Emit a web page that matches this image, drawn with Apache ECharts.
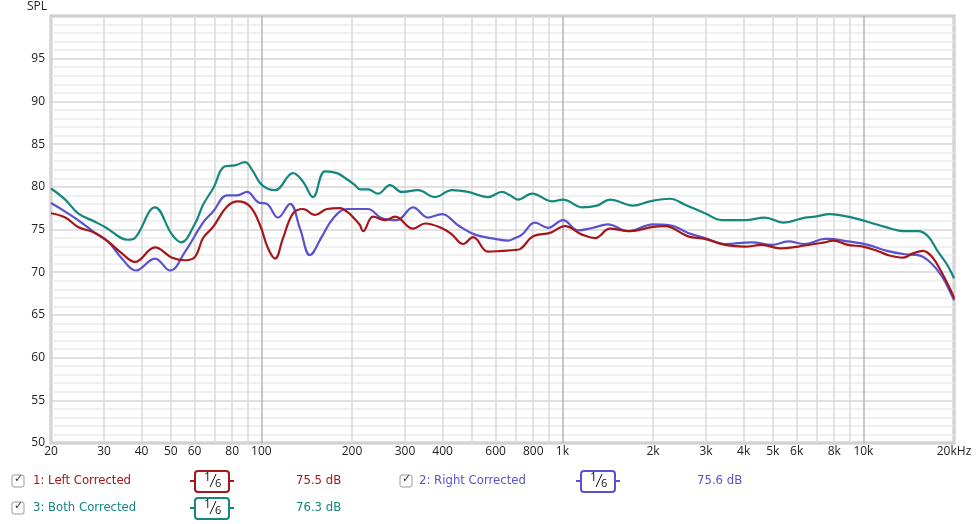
<!DOCTYPE html>
<html>
<head>
<meta charset="utf-8">
<script src="https://cdn.jsdelivr.net/npm/echarts@6/dist/echarts.min.js"></script>
<style>html,body{margin:0;padding:0;background:#fff}#c{width:980px;height:524px}</style>
</head>
<body>
<div id="c"></div>
<script>
// ---- data ----
const seriesNames = ['1: Left Corrected', '2: Right Corrected', '3: Both Corrected'];
const avgLevels = ['75.5 dB', '75.6 dB', '76.3 dB'];
const smoothing = '1/6';

const leftFreq = [20,22.3,24.6,28,30.9,34.4,38,44.3,50.5,55.8,60.2,64,69.1,76.9,83.6,91.7,99,105.2,111,118,127.4,137.5,150.7,165.2,182.5,194,204.6,212.6,217.6,234.9,257.5,278,319,350,401,430,468,505,566,630,696,723,799,910,1020,1162,1283,1439,1677,2000,2192,2615,2977,3469,4042,4604,5285,6064,7453,7925,8890,9971,10930,12072,13538,14612,15776,16902,18246,19848,20000];
const leftDb   = [76.9,76.4,75.3,74.6,73.6,72.2,71.2,72.9,71.7,71.4,71.8,74.0,75.3,77.7,78.3,77.7,75.5,72.8,71.6,74.0,76.9,77.4,76.7,77.4,77.5,77.0,76.2,75.5,74.8,76.5,76.1,76.5,75.1,75.7,75.1,74.4,73.3,74.1,72.4,72.5,72.6,72.7,74.2,74.6,75.4,74.4,74.0,75.1,74.8,75.3,75.4,74.2,73.9,73.2,73.0,73.2,72.8,73.0,73.5,73.7,73.2,73.0,72.6,72.0,71.7,72.2,72.5,71.8,69.9,67.3,66.9];

const rightFreq = [20,22.3,24.6,28,30.9,34.4,38.3,44.3,49.7,55.8,64,69.1,76.9,83,89.6,97.5,104.4,113.6,124.5,134.4,145,159,173,192.5,212.6,226,251.6,282,319,358,398,450,512,597,660,696,734,811,896,1005,1127,1264,1417,1652,2000,2278,2615,2977,3469,4265,4973,5618,6397,7453,7628,8890,10362,11980,13746,15182,16644,18246,19848,20000];
const rightDb   = [78.1,77.1,76.1,74.6,73.6,71.6,70.2,71.6,70.2,72.4,75.8,77.1,79.0,79.0,79.4,78.2,78.0,76.4,78.0,75.1,72.0,74.2,76.3,77.4,77.4,77.4,76.3,76.1,77.6,76.4,76.8,75.5,74.4,73.9,73.7,74.0,74.4,75.8,75.2,76.1,74.9,75.2,75.6,74.8,75.6,75.5,74.6,74.0,73.3,73.5,73.2,73.6,73.3,73.9,73.9,73.6,73.2,72.5,72.1,72.0,71.2,69.5,67.0,66.7];

const bothFreq = [20,22.3,24.6,28,30.2,36.1,38,44.3,50.5,54.1,60.2,64,69.1,75.7,81.7,88.2,93.8,100.5,111,127.4,137.5,148.4,162.7,178.3,194,204.6,212.6,226,244,267.5,293,331,377,430,486,566,630,670,712,793,924,1005,1162,1303,1439,1716,1955,2278,2556,2977,3390,4042,4711,5408,6397,6907,7745,8890,10126,11799,13746,15182,16390,17696,18960,20000];
const bothDb   = [79.8,78.5,76.9,75.9,75.3,73.8,74.0,77.6,74.4,73.5,75.7,77.9,79.8,82.4,82.5,82.9,81.8,80.2,79.6,81.6,80.6,78.8,81.8,81.6,80.8,80.2,79.7,79.7,79.2,80.2,79.4,79.6,78.8,79.6,79.4,78.8,79.4,79.0,78.5,79.2,78.3,78.5,77.6,77.8,78.5,77.8,78.3,78.6,77.9,76.9,76.1,76.1,76.4,75.8,76.4,76.5,76.8,76.5,76.0,75.3,74.8,74.8,74.2,72.4,70.9,69.3];

const xLabelValues = [20,30,40,50,60,80,100,200,300,400,600,800,1000,2000,3000,4000,5000,6000,8000,10000,20000];
const xMinorGrid = [20,30,40,50,60,70,80,90,200,300,400,500,600,700,800,900,2000,3000,4000,5000,6000,7000,8000,9000,20000];
const xMajorGrid = [100,1000,10000];

const colors = ['#a3161a', '#5a52cc', '#15877f'];

// ---- chart ----
const chart = echarts.init(document.getElementById('c'), null, {renderer: 'canvas'});
const zipPts = (f, d) => f.map((v, i) => [v, d[i]]);
const axisFont = 'Open Sans, DejaVu Sans, sans-serif';
const legFont = '"Liberation Sans Narrow", "DejaVu Sans Condensed", "Open Sans", sans-serif';

function fmtX(v) {
  if (v >= 20000) return '20kHz';
  if (v >= 1000) return (v / 1000) + 'k';
  return String(v);
}

const graphics = [
  {type: 'text', left: 27, top: 1, style: {text: 'SPL', font: '12px ' + axisFont, fill: '#222'}}
];
const legendLayout = [
  {cb: 12, label: 33, box: 195, value: 296, y: 481},
  {cb: 400, label: 419, box: 581, value: 697, y: 481},
  {cb: 12, label: 33, box: 195, value: 296, y: 508}
];
seriesNames.forEach((name, i) => {
  const p = legendLayout[i];
  const c = colors[i];
  graphics.push({type: 'rect', shape: {x: p.cb, y: p.y - 6, width: 12, height: 12, r: 2}, style: {fill: '#fff', stroke: '#9a9a9a', lineWidth: 1}});
  graphics.push({type: 'text', x: p.cb + 2, y: p.y - 7, style: {text: '\u2713', font: '11px DejaVu Sans', fill: '#333'}});
  graphics.push({type: 'text', x: p.label, y: p.y, style: {text: name, font: '13px ' + legFont, fill: c, verticalAlign: 'middle'}});
  const bx = p.box;
  graphics.push({type: 'line', shape: {x1: bx - 5, y1: p.y, x2: bx + 39, y2: p.y}, style: {stroke: c, lineWidth: 2}});
  graphics.push({type: 'rect', shape: {x: bx, y: p.y - 10, width: 34, height: 21, r: 3}, style: {fill: '#fff', stroke: c, lineWidth: 2}});
  const parts = smoothing.split('/');
  graphics.push({type: 'text', x: bx + 9, y: p.y - 9, style: {text: parts[0], font: '12px ' + axisFont, fill: '#111'}});
  graphics.push({type: 'line', shape: {x1: bx + 15, y1: p.y + 6, x2: bx + 21, y2: p.y - 7}, style: {stroke: '#111', lineWidth: 1}});
  graphics.push({type: 'text', x: bx + 20, y: p.y - 3, style: {text: parts[1], font: '11px ' + axisFont, fill: '#111'}});
  graphics.push({type: 'text', x: p.value, y: p.y, style: {text: avgLevels[i], font: '13px ' + legFont, fill: c, verticalAlign: 'middle'}});
});

const option = {
  animation: false,
  backgroundColor: '#fff',
  grid: {left: 51, right: 26, top: 16, bottom: 81, show: true, borderColor: '#c4c4c4', borderWidth: 3, backgroundColor: '#fff'},
  xAxis: [
    {
      type: 'log', logBase: 10, min: 20, max: 20000,
      axisLine: {show: false},
      axisTick: {show: false, customValues: xMinorGrid},
      axisLabel: {customValues: xLabelValues, formatter: fmtX, color: '#222', fontSize: 12, fontFamily: axisFont, margin: 3},
      splitLine: {show: true, lineStyle: {color: '#dadada', width: 1.5}},
      minorSplitLine: {show: false}
    },
    {
      type: 'log', logBase: 10, min: 20, max: 20000,
      axisLine: {show: false},
      axisTick: {show: false, customValues: xMajorGrid},
      axisLabel: {show: false},
      splitLine: {show: true, lineStyle: {color: '#b5b5b5', width: 1.5}}
    }
  ],
  yAxis: {
    type: 'value', min: 50, max: 100, interval: 5,
    axisLine: {show: false},
    axisTick: {show: false},
    axisLabel: {formatter: v => (v === 100 ? '' : String(v)), color: '#222', fontSize: 12, fontFamily: axisFont, margin: 6},
    splitLine: {show: true, lineStyle: {color: '#d6d6d6', width: 1.5}},
    minorTick: {show: false, splitNumber: 5},
    minorSplitLine: {show: true, lineStyle: {color: '#ececec', width: 1.5}}
  },
  series: [
    {name: seriesNames[2], type: 'line', data: zipPts(bothFreq, bothDb), smooth: 0.4, symbol: 'none', lineStyle: {color: colors[2], width: 2.2}, z: 3},
    {name: seriesNames[1], type: 'line', data: zipPts(rightFreq, rightDb), smooth: 0.4, symbol: 'none', lineStyle: {color: colors[1], width: 2.2}, z: 4},
    {name: seriesNames[0], type: 'line', data: zipPts(leftFreq, leftDb), smooth: 0.4, symbol: 'none', lineStyle: {color: colors[0], width: 2.2}, z: 5}
  ],
  graphic: graphics
};
chart.setOption(option);
</script>
</body>
</html>
